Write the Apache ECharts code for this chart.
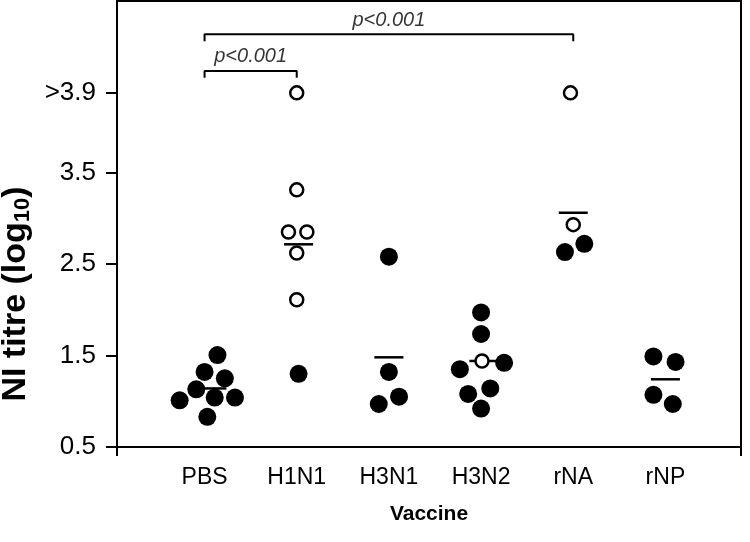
<!DOCTYPE html>
<html>
<head>
<meta charset="utf-8">
<script src="https://cdn.jsdelivr.net/npm/echarts@6/dist/echarts.min.js"></script>
<style>html,body{margin:0;padding:0;background:#fff}#c{width:750px;height:542px}</style>
</head>
<body>
<div id="c"></div>
<script>
// ---------- data ----------
const categories = ['PBS', 'H1N1', 'H3N1', 'H3N2', 'rNA', 'rNP'];
const yTickValues = [0.5, 1.5, 2.5, 3.5, 4.37];
const yTickLabels = ['0.5', '1.5', '2.5', '3.5', '>3.9'];
const CENSORED = '>3.9';          // values above detection limit
const CENSORED_POS = 4.37;        // axis position of the ">3.9" tick

// per-group values (log10 NI titre), horizontal jitter (in category units), open symbol flag
const pbsValues   = [1.505, 1.32, 1.25, 1.13, 1.04, 1.04, 1.01, 0.83];
const pbsJitter   = [0.14, 0.0, 0.22, -0.09, 0.11, 0.33, -0.27, 0.03];
const pbsOpen     = [0, 0, 0, 0, 0, 0, 0, 0];

const h1n1Values  = [CENSORED, 3.31, 2.85, 2.85, 2.62, 2.11, 1.30];
const h1n1Jitter  = [0.0, 0.0, -0.09, 0.11, 0.0, 0.0, 0.02];
const h1n1Open    = [1, 1, 1, 1, 1, 1, 0];

const h3n1Values  = [2.58, 1.32, 1.05, 0.97];
const h3n1Jitter  = [0.0, 0.0, 0.11, -0.11];
const h3n1Open    = [0, 0, 0, 0];

const h3n2Values  = [1.97, 1.735, 1.44, 1.35, 1.42, 1.14, 1.08, 0.92];
const h3n2Jitter  = [0.0, 0.0, 0.01, -0.23, 0.25, 0.10, -0.14, 0.0];
const h3n2Open    = [0, 0, 1, 0, 0, 0, 0, 0];

const rnaValues   = [CENSORED, 2.93, 2.72, 2.63];
const rnaJitter   = [-0.03, 0.0, 0.12, -0.09];
const rnaOpen     = [1, 1, 0, 0];

const rnpValues   = [1.49, 1.43, 1.07, 0.97];
const rnpJitter   = [-0.13, 0.11, -0.13, 0.08];
const rnpOpen     = [0, 0, 0, 0];

const groupMeans  = [1.14, 2.715, 1.48, 1.44, 3.06, 1.24];
const meanJitter  = [0.08, 0.02, 0.0, 0.03, 0.0, 0.0];

// significance brackets
const bracketFrom  = ['PBS', 'PBS'];
const bracketTo    = ['H1N1', 'rNA'];
const bracketLevel = [4.61, 5.01];
const bracketText  = ['p<0.001', 'p<0.001'];

// ---------- build ----------
const groups = [
  [pbsValues, pbsJitter, pbsOpen],
  [h1n1Values, h1n1Jitter, h1n1Open],
  [h3n1Values, h3n1Jitter, h3n1Open],
  [h3n2Values, h3n2Jitter, h3n2Open],
  [rnaValues, rnaJitter, rnaOpen],
  [rnpValues, rnpJitter, rnpOpen]
];
const toPos = v => (v === CENSORED ? CENSORED_POS : v);
const filled = [], open = [];
groups.forEach((g, gi) => {
  g[0].forEach((v, i) => {
    const pt = [gi + 1 + g[1][i], toPos(v)];
    (g[2][i] ? open : filled).push(pt);
  });
});
const means = groupMeans.map((m, i) => [i + 1 + meanJitter[i], m]);

const FONT = 'Liberation Sans';
const series = [
  { type: 'scatter', data: means, symbol: 'rect', symbolSize: [29, 2.5],
    itemStyle: { color: '#000', opacity: 1 }, z: 2, silent: true },
  { type: 'scatter', data: filled, symbol: 'circle', symbolSize: 18,
    itemStyle: { color: '#000', opacity: 1 }, z: 3, silent: true },
  { type: 'scatter', data: open, symbol: 'circle', symbolSize: 13,
    itemStyle: { color: '#fff', borderColor: '#000', borderWidth: 2.5, opacity: 1 }, z: 4, silent: true }
];
const drop = 0.075;
bracketFrom.forEach((f, i) => {
  const x1 = categories.indexOf(f) + 1, x2 = categories.indexOf(bracketTo[i]) + 1, y = bracketLevel[i];
  series.push({ type: 'line', data: [[x1, y - drop], [x1, y], [x2, y], [x2, y - drop]],
    symbol: 'none', lineStyle: { color: '#000', width: 2 }, z: 5, silent: true, animation: false });
  series.push({ type: 'scatter', data: [[(x1 + x2) / 2, y]], symbolSize: 0, silent: true,
    label: { show: true, position: 'top', distance: 4, formatter: bracketText[i],
      fontFamily: FONT, fontStyle: 'italic', fontSize: 20, color: '#000' } });
});

const chart = echarts.init(document.getElementById('c'), null, { renderer: 'canvas' });
chart.setOption({
  animation: false,
  backgroundColor: '#fff',
  grid: { left: 117, right: 9, top: 1, bottom: 95, show: true, borderColor: '#000', borderWidth: 2,
          containLabel: false, outerBoundsMode: 'none' },
  xAxis: {
    type: 'value', min: 0.05, max: 6.82,
    axisLine: { show: true, lineStyle: { color: '#000', width: 2 } },
    axisTick: { show: true, customValues: [0.05, 6.82], length: 9, lineStyle: { color: '#000', width: 2 } },
    axisLabel: { customValues: [1, 2, 3, 4, 5, 6], formatter: v => categories[Math.round(v) - 1],
      fontFamily: FONT, fontSize: 23, color: '#000', margin: 19 },
    splitLine: { show: false },
    name: 'Vaccine', nameLocation: 'middle', nameGap: 57,
    nameTextStyle: { fontFamily: FONT, fontWeight: 'bold', fontSize: 21, color: '#000' }
  },
  yAxis: {
    type: 'value', min: 0.5, max: 5.374,
    axisLine: { show: true, lineStyle: { color: '#000', width: 2 } },
    axisTick: { show: true, customValues: yTickValues, length: 11, lineStyle: { color: '#000', width: 2 } },
    axisLabel: { customValues: yTickValues,
      formatter: v => yTickLabels[yTickValues.findIndex(t => Math.abs(t - v) < 1e-6)],
      fontFamily: FONT, fontSize: 26, color: '#000', margin: 21 },
    splitLine: { show: false },
    name: '{a|NI titre (log}{s|10}{a|)}', nameLocation: 'middle', nameGap: 83,
    nameTextStyle: { fontFamily: FONT, fontWeight: 'bold', fontSize: 34, color: '#000',
      padding: [0, 140, 0, 0],
      rich: { a: { fontFamily: FONT, fontWeight: 'bold', fontSize: 34, color: '#000' },
              s: { fontFamily: FONT, fontWeight: 'bold', fontSize: 22, color: '#000', padding: [15, 0, 0, 0] } } }
  },
  series: series
});
</script>
</body>
</html>
